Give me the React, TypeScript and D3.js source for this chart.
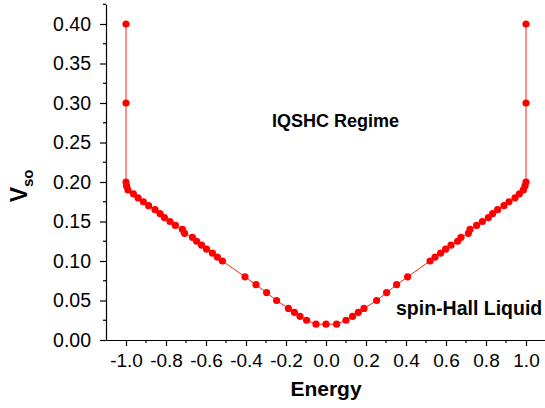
import React, { useEffect, useRef } from "react";
import * as d3 from "d3";

const energy: number[] = [
  -1.0, -1.0, -1.0, -0.997, -0.99, -0.963, -0.94, -0.913, -0.887, -0.855, -0.83, -0.808,
  -0.78, -0.753, -0.718, -0.707, -0.668, -0.647, -0.622, -0.597, -0.568, -0.543, -0.518,
  -0.405, -0.35, -0.297, -0.247, -0.188, -0.158, -0.13, -0.097, -0.05, 0.0, 0.053,
  0.1, 0.133, 0.162, 0.19, 0.253, 0.303, 0.353, 0.408, 0.52, 0.545, 0.573, 0.598,
  0.625, 0.658, 0.675, 0.712, 0.72, 0.753, 0.782, 0.812, 0.833, 0.858, 0.89, 0.915,
  0.945, 0.967, 0.987, 0.995, 1.0, 1.0, 1.0,
];
const vso: number[] = [
  0.40, 0.30, 0.20, 0.195, 0.19, 0.185, 0.18, 0.175, 0.17, 0.165, 0.16, 0.155,
  0.15, 0.145, 0.14, 0.135, 0.13, 0.125, 0.12, 0.115, 0.11, 0.105, 0.10,
  0.08, 0.07, 0.06, 0.05, 0.04, 0.035, 0.03, 0.025, 0.02, 0.02, 0.02,
  0.025, 0.03, 0.035, 0.04, 0.05, 0.06, 0.07, 0.08, 0.10, 0.105, 0.11, 0.115,
  0.12, 0.125, 0.13, 0.135, 0.14, 0.145, 0.15, 0.155, 0.16, 0.165, 0.17, 0.175,
  0.18, 0.185, 0.19, 0.195, 0.20, 0.30, 0.40,
];
const xMajorTicks: number[] = [-1.0, -0.8, -0.6, -0.4, -0.2, 0.0, 0.2, 0.4, 0.6, 0.8, 1.0];
const xMinorTicks: number[] = [-0.9, -0.7, -0.5, -0.3, -0.1, 0.1, 0.3, 0.5, 0.7, 0.9, 1.1];
const yMajorTicks: number[] = [0, 0.05, 0.1, 0.15, 0.2, 0.25, 0.3, 0.35, 0.4];
const yMinorTicks: number[] = [0.025, 0.075, 0.125, 0.175, 0.225, 0.275, 0.325, 0.375, 0.425];
const xTitle = "Energy";
const annotations = [
  { text: "IQSHC Regime", e: -0.27, v: 0.27, size: 18 },
  { text: "spin-Hall Liquid", e: 0.35, v: 0.032, size: 19.5 },
];

const W = 545;
const H = 408;
const FONT = "'Liberation Sans', Arial, Helvetica, sans-serif";

export default function App() {
  const ref = useRef<SVGSVGElement | null>(null);

  useEffect(() => {
    const svg = d3.select(ref.current);
    svg.selectAll("*").remove();

    const x = d3.scaleLinear().domain([-1.1, 1.1]).range([106, 546]);
    const y = d3.scaleLinear().domain([0, 0.425]).range([340, 4.25]);

    const fmtX = (d: number) => d.toFixed(1).replace("\u2212", "-");
    const fmtY = (d: number) => d.toFixed(2);

    // Y axis
    const yAxis = d3
      .axisLeft(y)
      .tickValues(yMajorTicks)
      .tickSize(6)
      .tickSizeOuter(0)
      .tickPadding(9)
      .tickFormat((d) => fmtY(d as number));
    const gy = svg.append("g").attr("transform", `translate(${x(-1.1)},0)`).call(yAxis);
    gy.selectAll("text").attr("font-size", 19.5).attr("font-family", FONT).attr("fill", "#000");
    gy.selectAll("line, path").attr("stroke", "#000").attr("stroke-width", 1.2);
    const gyMinor = svg.append("g").attr("transform", `translate(${x(-1.1)},0)`);
    gyMinor
      .selectAll("line")
      .data(yMinorTicks)
      .join("line")
      .attr("x1", 0)
      .attr("x2", -3)
      .attr("y1", (d) => y(d))
      .attr("y2", (d) => y(d))
      .attr("stroke", "#000")
      .attr("stroke-width", 1.2);

    // X axis
    const xAxis = d3
      .axisBottom(x)
      .tickValues(xMajorTicks)
      .tickSize(6)
      .tickSizeOuter(0)
      .tickPadding(8)
      .tickFormat((d) => fmtX(d as number));
    const gx = svg.append("g").attr("transform", `translate(0,${y(0)})`).call(xAxis);
    gx.selectAll("text").attr("font-size", 19).attr("font-family", FONT).attr("fill", "#000");
    gx.selectAll("line, path").attr("stroke", "#000").attr("stroke-width", 1.2);
    const gxMinor = svg.append("g").attr("transform", `translate(0,${y(0)})`);
    gxMinor
      .selectAll("line")
      .data(xMinorTicks)
      .join("line")
      .attr("x1", (d) => x(d))
      .attr("x2", (d) => x(d))
      .attr("y1", 0)
      .attr("y2", 3)
      .attr("stroke", "#000")
      .attr("stroke-width", 1.2);

    // Data
    const pts = energy.map((e, i) => [e, vso[i]] as [number, number]);
    const line = d3
      .line<[number, number]>()
      .x((d) => x(d[0]))
      .y((d) => y(d[1]));
    svg
      .append("path")
      .attr("d", line(pts) as string)
      .attr("fill", "none")
      .attr("stroke", "#ff2020")
      .attr("stroke-width", 1);
    svg
      .append("g")
      .selectAll("circle")
      .data(pts)
      .join("circle")
      .attr("cx", (d) => x(d[0]))
      .attr("cy", (d) => y(d[1]))
      .attr("r", 3.6)
      .attr("fill", "#ff0000");

    // Titles
    svg
      .append("text")
      .attr("x", x(0))
      .attr("y", 396)
      .attr("text-anchor", "middle")
      .attr("font-family", FONT)
      .attr("font-weight", "bold")
      .attr("font-size", 21)
      .text(xTitle);

    const yt = svg
      .append("text")
      .attr("transform", `translate(27,${y(0.195)}) rotate(-90)`)
      .attr("text-anchor", "middle")
      .attr("font-family", FONT)
      .attr("font-weight", "bold")
      .attr("font-size", 23);
    yt.append("tspan").text("V");
    yt.append("tspan").attr("font-size", 15).attr("dy", 6).text("so");

    annotations.forEach((a) => {
      svg
        .append("text")
        .attr("x", x(a.e))
        .attr("y", y(a.v))
        .attr("font-family", FONT)
        .attr("font-weight", "bold")
        .attr("font-size", a.size)
        .text(a.text);
    });
  }, []);

  return (
    <div style={{ position: "fixed", left: 0, top: 0 }}>
      <svg ref={ref} width={W} height={H} style={{ display: "block", background: "#fff" }} />
    </div>
  );
}
